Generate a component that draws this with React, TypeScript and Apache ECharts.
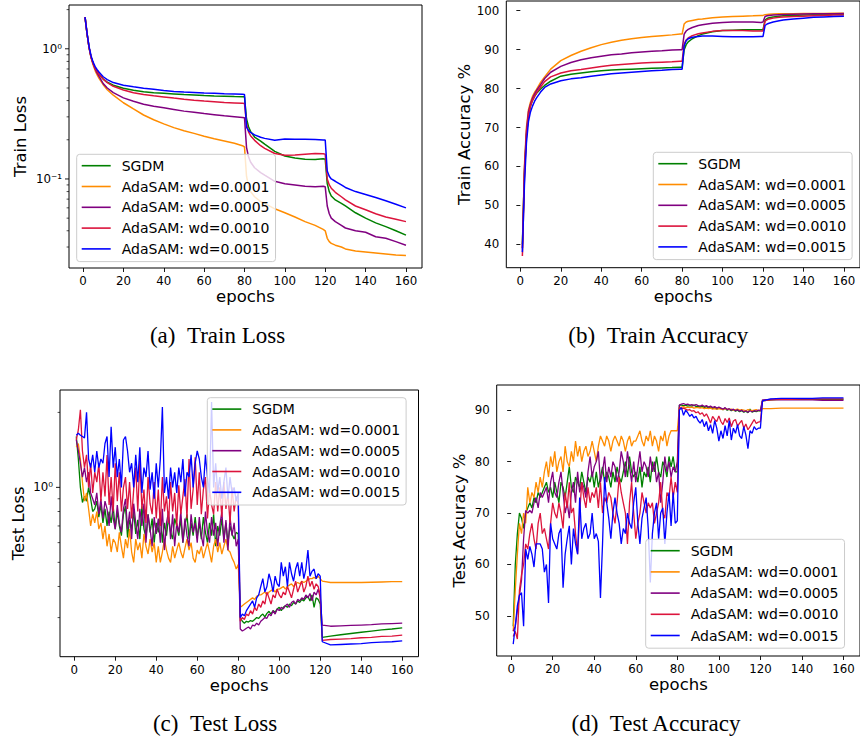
import React, { useEffect, useRef } from "react";
import * as echarts from "echarts";

const seriesNames = ["SGDM", "AdaSAM: wd=0.0001", "AdaSAM: wd=0.0005", "AdaSAM: wd=0.0010", "AdaSAM: wd=0.0015"];
const seriesColors = ["#008000", "#ff8c00", "#800080", "#dc143c", "#0000ff"];
const xTicks = [0, 20, 40, 60, 80, 100, 120, 140, 160];
const trainAccTicks = [40, 50, 60, 70, 80, 90, 100];
const testAccTicks = [50, 60, 70, 80, 90];
const trainLossMajor = [0.1, 1];
const trainLossMinor = [0.03, 0.04, 0.05, 0.06, 0.07, 0.08, 0.09, 0.2, 0.3, 0.4, 0.5, 0.6, 0.7, 0.8, 0.9, 2];
const testLossMajor = [1];
const testLossMinor = [0.3, 0.4, 0.5, 0.6, 0.7, 0.8, 0.9, 2];

// ---- Train curves (sampled epochs) ----
const trainEpochs = [1, 2, 3, 4, 5, 6, 7, 8, 10, 12, 15, 20, 25, 30, 35, 40, 45, 50, 55, 60, 65, 70, 75, 79, 80,
  81, 82, 83, 85, 88, 90, 95, 100, 105, 110, 115, 119, 120,
  121, 122, 123, 125, 128, 130, 135, 140, 145, 150, 155, 160];

const trainLossSGDM = [1.75, 1.30, 1.02, 0.86, 0.77, 0.71, 0.67, 0.635, 0.585, 0.555, 0.525, 0.497, 0.480, 0.468, 0.460, 0.455, 0.450, 0.445, 0.441, 0.437, 0.434, 0.432, 0.430, 0.429, 0.428,
  0.29, 0.252, 0.232, 0.21, 0.195, 0.185, 0.163, 0.150, 0.145, 0.142, 0.141, 0.143, 0.142,
  0.092, 0.080, 0.074, 0.069, 0.065, 0.062, 0.055, 0.050, 0.046, 0.043, 0.040, 0.037];
const trainLossW1 = [1.75, 1.30, 1.02, 0.85, 0.75, 0.68, 0.63, 0.59, 0.53, 0.485, 0.44, 0.385, 0.345, 0.31, 0.285, 0.265, 0.248, 0.235, 0.224, 0.213, 0.204, 0.196, 0.188, 0.18, 0.176,
  0.105, 0.088, 0.080, 0.073, 0.067, 0.065, 0.059, 0.055, 0.051, 0.047, 0.044, 0.041, 0.040,
  0.035, 0.033, 0.032, 0.031, 0.030, 0.029, 0.028, 0.0275, 0.027, 0.0265, 0.026, 0.0258];
const trainLossW5 = [1.75, 1.30, 1.02, 0.86, 0.77, 0.70, 0.65, 0.61, 0.54, 0.50, 0.46, 0.42, 0.395, 0.375, 0.362, 0.352, 0.342, 0.332, 0.325, 0.318, 0.312, 0.306, 0.301, 0.297, 0.295,
  0.175, 0.148, 0.135, 0.122, 0.112, 0.107, 0.096, 0.092, 0.090, 0.088, 0.087, 0.088, 0.087,
  0.062, 0.054, 0.050, 0.047, 0.044, 0.042, 0.040, 0.039, 0.036, 0.035, 0.033, 0.031];
const trainLossW10 = [1.75, 1.30, 1.02, 0.86, 0.77, 0.71, 0.67, 0.635, 0.585, 0.55, 0.515, 0.483, 0.46, 0.445, 0.435, 0.427, 0.418, 0.41, 0.403, 0.397, 0.392, 0.387, 0.384, 0.381, 0.38,
  0.265, 0.23, 0.215, 0.198, 0.18, 0.172, 0.157, 0.152, 0.153, 0.155, 0.157, 0.156, 0.155,
  0.100, 0.090, 0.085, 0.079, 0.073, 0.069, 0.062, 0.058, 0.054, 0.051, 0.049, 0.047];
const trainLossW15 = [1.75, 1.32, 1.04, 0.88, 0.79, 0.73, 0.69, 0.66, 0.61, 0.58, 0.55, 0.525, 0.51, 0.497, 0.488, 0.478, 0.47, 0.465, 0.462, 0.458, 0.455, 0.452, 0.45, 0.448, 0.446,
  0.25, 0.235, 0.228, 0.218, 0.209, 0.205, 0.198, 0.203, 0.202, 0.202, 0.201, 0.199, 0.199,
  0.115, 0.105, 0.100, 0.096, 0.090, 0.086, 0.080, 0.076, 0.072, 0.068, 0.064, 0.060];

const trainAccSGDM = [40, 58, 68, 73, 75.5, 77, 78, 78.8, 79.9, 80.8, 81.9, 83.2, 83.7, 84.0, 84.3, 84.6, 84.8, 84.9, 85.0, 85.1, 85.2, 85.3, 85.4, 85.5, 85.5,
  90.0, 91.3, 92.0, 92.8, 93.6, 94.0, 94.6, 94.9, 95.0, 95.1, 95.1, 95.1, 95.1,
  97.6, 98.0, 98.2, 98.4, 98.6, 98.7, 98.8, 98.9, 99.0, 99.0, 99.1, 99.1];
const trainAccW1 = [39, 60, 70, 74.5, 76.5, 78, 79, 79.8, 81.6, 83, 85, 87.2, 88.5, 89.6, 90.5, 91.3, 91.9, 92.4, 92.8, 93.1, 93.4, 93.6, 93.8, 94.0, 94.0,
  96.6, 97.1, 97.3, 97.5, 97.8, 97.9, 98.2, 98.4, 98.5, 98.6, 98.7, 98.8, 98.8,
  99.0, 99.05, 99.1, 99.15, 99.2, 99.2, 99.25, 99.3, 99.3, 99.3, 99.35, 99.35];
const trainAccW5 = [39, 59, 69, 74, 76, 77.5, 78.6, 79.5, 81, 82.6, 84.2, 85.7, 86.7, 87.4, 87.9, 88.3, 88.7, 88.9, 89.2, 89.4, 89.6, 89.7, 89.9, 90.0, 90.0,
  94.0, 94.8, 95.2, 95.7, 96.2, 96.4, 96.8, 97.0, 97.1, 97.1, 97.1, 97.0, 97.1,
  98.5, 98.7, 98.8, 98.9, 99.0, 99.05, 99.1, 99.15, 99.2, 99.2, 99.25, 99.3];
const trainAccW10 = [37, 57, 68, 73, 75.5, 77, 78, 78.9, 80.4, 81.8, 83, 84.0, 84.6, 84.9, 85.3, 85.7, 86.0, 86.2, 86.4, 86.6, 86.7, 86.8, 86.9, 87.0, 87.0,
  91.5, 92.5, 93.0, 93.6, 94.1, 94.3, 94.7, 94.9, 94.9, 94.9, 94.8, 94.8, 94.8,
  97.3, 97.7, 97.9, 98.1, 98.3, 98.4, 98.5, 98.6, 98.7, 98.8, 98.9, 98.9];
const trainAccW15 = [38, 55, 66, 71.5, 74, 75.5, 76.7, 77.6, 79.1, 80.3, 81.2, 82.0, 82.5, 82.8, 83.2, 83.5, 83.8, 84.0, 84.2, 84.4, 84.6, 84.7, 84.9, 85.0, 85.0,
  91.0, 92.3, 92.8, 93.2, 93.4, 93.5, 93.5, 93.4, 93.3, 93.3, 93.3, 93.4, 93.4,
  96.2, 96.6, 96.8, 97.1, 97.4, 97.6, 97.9, 98.1, 98.3, 98.4, 98.5, 98.6];

// ---- Test curves: every epoch 1..120, then sampled tail ----
const testEpochs = [...Array.from({ length: 120 }, (_, i) => i + 1), 121, 125, 130, 135, 140, 145, 150, 155, 160];

const testLossSGDM = [
  1.6, 1.3, 1.0, 0.87, 0.92, 0.88, 1.0, 0.90, 0.80, 0.82,
  0.88, 0.76, 0.85, 0.72, 0.82, 0.70, 0.80, 0.72, 0.84, 0.68,
  0.80, 0.70, 0.64, 0.78, 0.84, 0.63, 0.74, 0.68, 0.80, 0.65,
  0.74, 0.62, 0.84, 0.68, 0.63, 0.78, 0.66, 0.75, 0.60, 0.72,
  0.66, 0.78, 0.60, 0.72, 0.64, 0.76, 0.66, 0.62, 0.75, 0.70,
  0.64, 0.75, 0.60, 0.70, 0.78, 0.62, 0.72, 0.64, 0.76, 0.63,
  0.72, 0.62, 0.76, 0.66, 0.60, 0.72, 0.64, 0.78, 0.58, 0.70,
  0.64, 0.75, 0.62, 0.72, 0.60, 0.70, 0.65, 0.62, 0.66, 0.65,
  0.30, 0.29, 0.285, 0.29, 0.288, 0.292, 0.29, 0.295, 0.30, 0.298,
  0.305, 0.31, 0.302, 0.312, 0.318, 0.31, 0.32, 0.315, 0.325, 0.33,
  0.32, 0.33, 0.335, 0.33, 0.34, 0.335, 0.345, 0.34, 0.35, 0.345,
  0.355, 0.35, 0.36, 0.365, 0.35, 0.37, 0.33, 0.36, 0.355, 0.34,
  0.25, 0.253, 0.256, 0.259, 0.262, 0.265, 0.268, 0.27, 0.273];
const testLossW1 = [
  1.45, 1.5, 1.3, 1.05, 0.88, 0.95, 0.82, 0.70, 0.78, 0.72,
  0.80, 0.68, 0.72, 0.62, 0.70, 0.58, 0.65, 0.55, 0.62, 0.60,
  0.55, 0.66, 0.58, 0.52, 0.62, 0.57, 0.68, 0.55, 0.50, 0.62,
  0.56, 0.60, 0.52, 0.65, 0.58, 0.54, 0.62, 0.55, 0.60, 0.50,
  0.58, 0.50, 0.55, 0.62, 0.56, 0.52, 0.50, 0.58, 0.52, 0.56,
  0.60, 0.55, 0.52, 0.57, 0.62, 0.56, 0.60, 0.52, 0.50, 0.56,
  0.54, 0.58, 0.52, 0.56, 0.60, 0.55, 0.50, 0.58, 0.62, 0.55,
  0.60, 0.54, 0.58, 0.62, 0.56, 0.55, 0.52, 0.50, 0.47, 0.49,
  0.33, 0.335, 0.34, 0.345, 0.35, 0.355, 0.36, 0.355, 0.365, 0.37,
  0.37, 0.375, 0.38, 0.37, 0.38, 0.385, 0.39, 0.38, 0.39, 0.39,
  0.395, 0.40, 0.39, 0.40, 0.405, 0.41, 0.40, 0.41, 0.415, 0.41,
  0.42, 0.415, 0.42, 0.425, 0.43, 0.43, 0.435, 0.43, 0.44, 0.43,
  0.42, 0.415, 0.415, 0.415, 0.415, 0.416, 0.417, 0.418, 0.418];
const testLossW5 = [
  1.55, 1.4, 1.25, 1.1, 1.2, 1.05, 1.15, 0.95, 0.90, 0.85,
  0.95, 0.78, 0.90, 0.75, 0.88, 0.82, 0.70, 0.92, 0.75, 0.68,
  0.85, 0.72, 0.66, 0.82, 0.90, 0.68, 0.80, 0.62, 0.86, 0.72,
  0.62, 0.82, 0.70, 0.86, 0.60, 0.78, 0.68, 0.58, 0.76, 0.65,
  0.75, 0.60, 0.82, 0.56, 0.72, 0.80, 0.62, 0.78, 0.58, 0.72,
  0.66, 0.80, 0.60, 0.75, 0.64, 0.58, 0.78, 0.66, 0.72, 0.60,
  0.76, 0.64, 0.58, 0.80, 0.66, 0.60, 0.76, 0.64, 0.72, 0.58,
  0.70, 0.80, 0.60, 0.74, 0.56, 0.76, 0.64, 0.72, 0.58, 0.62,
  0.27, 0.265, 0.268, 0.272, 0.275, 0.27, 0.28, 0.278, 0.285, 0.28,
  0.29, 0.295, 0.30, 0.298, 0.31, 0.305, 0.32, 0.31, 0.325, 0.32,
  0.33, 0.325, 0.335, 0.34, 0.33, 0.345, 0.35, 0.34, 0.355, 0.35,
  0.36, 0.355, 0.37, 0.36, 0.375, 0.35, 0.38, 0.37, 0.39, 0.36,
  0.28, 0.277, 0.278, 0.279, 0.28, 0.281, 0.283, 0.284, 0.285];
const testLossW10 = [
  1.55, 1.7, 2.05, 1.4, 1.2, 1.35, 1.0, 1.25, 0.95, 1.15,
  1.05, 1.25, 0.88, 1.15, 0.92, 1.35, 0.85, 1.1, 0.80, 1.25,
  0.88, 1.15, 0.80, 1.0, 1.1, 0.82, 1.05, 0.75, 0.98, 1.2,
  0.80, 1.28, 0.82, 0.98, 0.72, 1.1, 0.86, 0.78, 1.05, 0.75,
  0.98, 0.70, 1.1, 0.80, 0.92, 0.72, 1.05, 0.80, 0.95, 0.70,
  1.02, 0.78, 0.92, 1.08, 0.75, 1.3, 0.82, 0.98, 1.32, 0.85,
  1.15, 0.78, 0.98, 1.1, 0.75, 0.98, 0.85, 0.78, 1.05, 0.80,
  1.0, 0.76, 1.05, 0.82, 0.95, 0.72, 1.0, 0.80, 0.92, 0.85,
  0.29, 0.30, 0.295, 0.31, 0.305, 0.32, 0.31, 0.33, 0.32, 0.34,
  0.33, 0.35, 0.34, 0.38, 0.36, 0.34, 0.37, 0.36, 0.39, 0.37,
  0.36, 0.38, 0.37, 0.40, 0.38, 0.36, 0.39, 0.42, 0.38, 0.40,
  0.42, 0.38, 0.40, 0.44, 0.40, 0.42, 0.39, 0.41, 0.40, 0.37,
  0.243, 0.245, 0.246, 0.247, 0.249, 0.25, 0.252, 0.253, 0.255];
const testLossW15 = [
  1.62, 1.65, 1.62, 1.60, 1.58, 2.0, 1.3, 1.2, 1.35, 1.15,
  1.4, 1.2, 1.3, 1.25, 1.5, 1.6, 1.1, 1.75, 1.2, 1.45,
  1.1, 1.3, 1.0, 1.55, 1.6, 1.4, 1.15, 1.25, 1.0, 1.35,
  1.05, 1.45, 0.95, 1.2, 1.1, 1.4, 0.98, 1.15, 0.9, 1.25,
  1.0, 1.3, 2.1, 0.95, 1.1, 0.9, 1.2, 1.0, 1.15, 0.95,
  1.2, 1.05, 1.3, 0.92, 1.15, 1.1, 1.35, 1.0, 1.25, 1.4,
  1.3, 1.1, 1.0, 1.35, 1.1, 0.95, 2.2, 1.0, 1.25, 0.95,
  1.1, 0.9, 1.05, 1.2, 0.9, 1.1, 0.95, 1.0, 0.88, 0.95,
  0.30, 0.31, 0.305, 0.32, 0.33, 0.34, 0.35, 0.33, 0.36, 0.37,
  0.40, 0.43, 0.38, 0.40, 0.45, 0.42, 0.38, 0.44, 0.41, 0.40,
  0.50, 0.44, 0.48, 0.40, 0.50, 0.45, 0.42, 0.47, 0.50, 0.44,
  0.50, 0.43, 0.47, 0.56, 0.44, 0.46, 0.47, 0.43, 0.45, 0.44,
  0.24, 0.233, 0.234, 0.235, 0.236, 0.238, 0.239, 0.24, 0.242];

const testAccSGDM = [
  48, 60, 66, 70, 69, 67, 70, 71, 72, 71,
  73, 72, 74, 73, 74, 75, 76, 74, 75, 73,
  76, 74, 72, 76, 75, 73, 76, 79, 75, 74,
  77, 76, 75, 78, 76, 74, 77, 76, 78, 75,
  78, 75, 77, 79, 76, 78, 77, 75, 78, 76,
  79, 77, 76, 78, 80, 77, 81, 78, 77, 78,
  76, 79, 75, 78, 77, 79, 76, 80, 78, 81,
  78, 77, 80, 79, 77, 81, 79, 81, 78, 78,
  91, 91, 90.9, 91, 90.8, 90.9, 90.8, 91, 90.7, 90.8,
  90.6, 90.8, 90.5, 90.7, 90.4, 90.6, 90.3, 90.5, 90.2, 90.4,
  90.3, 90.1, 90.4, 90.0, 90.2, 89.9, 90.1, 89.8, 90.0, 89.7,
  89.9, 89.6, 89.8, 89.5, 90.2, 89.6, 89.8, 89.7, 89.9, 89.8,
  91.8, 92.0, 92.1, 92.1, 92.1, 92.1, 92.1, 92.1, 92.1];
const testAccW1 = [
  47, 55, 62, 68, 66, 70, 68, 75, 72, 74,
  73, 76, 74, 77, 75, 78, 80, 77, 81, 79,
  82, 78, 80, 81, 78, 83, 80, 79, 82, 80,
  84, 81, 83, 80, 82, 83, 81, 82, 84, 82,
  80, 83, 85, 84, 83, 85, 84, 82, 84, 85,
  84, 83, 85, 84, 82, 84, 85, 83, 84, 84,
  85, 86, 84, 83, 85, 84, 86, 83, 85, 84,
  82, 85, 84, 86, 83, 85, 86, 86, 86, 86,
  90.5, 90.6, 90.7, 90.5, 90.6, 90.5, 90.6, 90.4, 90.5, 90.5,
  90.4, 90.5, 90.3, 90.4, 90.3, 90.4, 90.2, 90.3, 90.2, 90.3,
  90.2, 90.1, 90.3, 90.2, 90.1, 90.2, 90.0, 90.1, 90.2, 90.0,
  90.1, 90.0, 89.9, 90.1, 90.0, 89.9, 90.0, 90.1, 89.9, 90.0,
  90.3, 90.3, 90.4, 90.4, 90.4, 90.4, 90.4, 90.4, 90.4];
const testAccW5 = [
  47, 48, 51, 54, 57, 65, 70.5, 70, 70.5, 70,
  72, 73, 71, 74, 73, 74, 75, 72, 76, 78,
  74, 73, 76, 78, 74, 70, 72, 69, 74, 76,
  72, 78, 74, 76, 75, 73, 78, 81, 77, 79,
  80, 82, 76, 78, 81, 76, 79, 77, 80, 79,
  76, 78, 82, 80, 77, 82, 79, 76, 80, 76,
  79, 82, 78, 80, 79, 77, 81, 78, 80, 76,
  78, 72, 76, 81, 78, 80, 77, 79, 78, 80,
  91, 91.2, 91.3, 91.1, 91.2, 91, 91.1, 90.9, 91.1, 90.9,
  90.8, 91, 90.7, 90.9, 90.6, 90.8, 90.5, 90.7, 90.4, 90.6,
  90.4, 90.2, 90.5, 90.1, 90.3, 90.0, 90.2, 89.9, 90.1, 89.8,
  90.0, 89.7, 89.9, 89.6, 89.9, 89.7, 89.9, 89.8, 90.0, 89.9,
  92.0, 92.1, 92.0, 92.0, 92.0, 92.0, 91.9, 91.9, 91.9];
const testAccW10 = [
  46, 47, 45.5, 55, 58, 60, 64, 63, 66, 68,
  65, 63, 68, 70, 66, 67, 65, 63, 68, 72,
  70, 69, 72, 70, 67, 74, 71, 76, 70, 71,
  66, 62, 70, 76, 73, 71, 75, 72, 74, 73,
  75, 71, 76, 70, 73, 72, 74, 73, 70, 68,
  72, 77, 74, 72, 70, 64, 72, 76, 70, 65,
  68, 70, 74, 72, 70, 72, 71, 72, 68, 70,
  72, 76, 70, 69, 74, 73, 77, 73, 76, 74,
  90.5, 90.3, 90.4, 90.2, 90, 90.1, 89.8, 89.9, 89.5, 89.7,
  89.2, 89.5, 88.8, 89.3, 88.5, 87.5, 88.8, 88.2, 87.8, 88.9,
  87.8, 87.2, 88.4, 87.6, 88.5, 86.8, 87.9, 88.2, 86.9, 87.5,
  88.0, 86.5, 87.3, 86.2, 86.8, 87.5, 88.2, 87.4, 87.7, 87.8,
  91.8, 92.0, 92.1, 92.1, 92.2, 92.2, 92.2, 92.2, 92.2];
const testAccW15 = [
  44.5, 48, 52, 54, 54.5, 48, 63, 61, 63.5, 62,
  59.5, 64, 64, 64, 63, 58.5, 60, 52.5, 68, 65,
  64, 63, 66, 67, 55.5, 62, 65, 67.5, 60, 67,
  64, 62, 73, 65, 67, 68, 65, 66, 70, 65,
  66, 64.5, 53.5, 64, 77, 72, 69, 65, 70, 73,
  70, 68, 64, 67, 66, 70, 68, 67, 72, 75,
  68, 64, 69, 71, 73, 67, 56.5, 66, 70, 72,
  65, 70, 71, 64, 70, 74, 67.5, 74, 68, 68.5,
  90, 90.5, 89, 90, 89.5, 88.8, 89.2, 88.5, 88.8, 88,
  87.5, 88.2, 86.8, 87.8, 86, 87.2, 85.5, 88, 86.5, 84,
  86, 84.5, 87, 85, 88, 84.2, 86.5, 85.5, 87.2, 85,
  84.5, 86.8, 85.2, 82.5, 86, 85.5, 86.8, 86.2, 86.5, 86.5,
  91.8, 92.2, 92.3, 92.3, 92.3, 92.3, 92.4, 92.4, 92.4];

const trainLossSets = [trainLossSGDM, trainLossW1, trainLossW5, trainLossW10, trainLossW15];
const trainAccSets = [trainAccSGDM, trainAccW1, trainAccW5, trainAccW10, trainAccW15];
const testLossSets = [testLossSGDM, testLossW1, testLossW5, testLossW10, testLossW15];
const testAccSets = [testAccSGDM, testAccW1, testAccW5, testAccW10, testAccW15];

const X_MIN = -6.95;
const X_MAX = 167.95;
const FONT = "DejaVu Sans";
const SUP: Record<string, string> = { "0": "\u2070", "1": "\u00b9", "2": "\u00b2", "-": "\u207b" };

function logLabel(v: number): string {
  const l = Math.log10(v);
  const r = Math.round(l);
  if (Math.abs(l - r) > 1e-6) return "";
  return "10" + String(r).split("").map((c) => SUP[c] || c).join("");
}

function pairs(xs: number[], ys: number[]) {
  return xs.map((x, i) => [x, ys[i]]);
}

export default function App() {
  const ref = useRef<HTMLDivElement>(null);
  useEffect(() => {
    if (!ref.current) return;
    const chart = echarts.init(ref.current, undefined, { renderer: "svg" });

    const grids = [
      { left: 69, top: 5, width: 353, height: 263 },
      { left: 506.3, top: 1, width: 357.5, height: 266.7 },
      { left: 60, top: 390, width: 358.5, height: 266.7 },
      { left: 496.7, top: 385, width: 364.7, height: 271 },
    ].map((g) => ({ ...g, show: true, borderColor: "#000", borderWidth: 1, backgroundColor: "transparent" }));

    const xAxes = [0, 1, 2, 3].map((i) => ({
      type: "value",
      gridIndex: i,
      min: X_MIN,
      max: X_MAX,
      axisLine: { show: false },
      splitLine: { show: false },
      axisTick: { show: true, length: 4, customValues: xTicks, lineStyle: { color: "#000", width: 0.9 } },
      axisLabel: { customValues: xTicks, fontSize: 11.8, color: "#000", margin: 7, fontFamily: FONT },
      name: "epochs",
      nameLocation: "middle",
      nameGap: 20,
      nameTextStyle: { fontSize: 16.5, color: "#000", fontFamily: FONT },
    }));

    const yCommon = {
      axisLine: { show: false },
      splitLine: { show: false },
      nameLocation: "middle",
      nameRotate: 90,
      nameTextStyle: { fontSize: 16.5, color: "#000", fontFamily: FONT },
    };
    const yAxes = [
      {
        ...yCommon, type: "log", logBase: 10, gridIndex: 0, min: 0.0207, max: 2.17,
        axisTick: { show: false },
        axisLabel: { formatter: (v: number) => logLabel(v), fontSize: 11.8, color: "#000", margin: 7, fontFamily: FONT },
        name: "Train Loss", nameGap: 40,
      },
      {
        ...yCommon, type: "value", gridIndex: 1, min: 34.0, max: 102.5,
        axisTick: { show: true, length: 4, customValues: trainAccTicks, lineStyle: { color: "#000", width: 0.9 } },
        axisLabel: { customValues: trainAccTicks, fontSize: 11.8, color: "#000", margin: 7, fontFamily: FONT },
        name: "Train Accuracy %", nameGap: 33,
      },
      {
        ...yCommon, type: "log", logBase: 10, gridIndex: 2, min: 0.209, max: 2.46,
        axisTick: { show: false },
        axisLabel: { formatter: (v: number) => logLabel(v), fontSize: 11.8, color: "#000", margin: 7, fontFamily: FONT },
        name: "Test Loss", nameGap: 33,
      },
      {
        ...yCommon, type: "value", gridIndex: 3, min: 42.2, max: 94.9,
        axisTick: { show: true, length: 4, customValues: testAccTicks, lineStyle: { color: "#000", width: 0.9 } },
        axisLabel: { customValues: testAccTicks, fontSize: 11.8, color: "#000", margin: 7, fontFamily: FONT },
        name: "Test Accuracy %", nameGap: 29,
      },
    ];

    const lineSeries: any[] = [];
    const panels = [
      { sets: trainLossSets, xs: trainEpochs, width: 1.5 },
      { sets: trainAccSets, xs: trainEpochs, width: 1.5 },
      { sets: testLossSets, xs: testEpochs, width: 1.3 },
      { sets: testAccSets, xs: testEpochs, width: 1.3 },
    ];
    panels.forEach((p, gi) => {
      p.sets.forEach((ys, si) => {
        lineSeries.push({
          type: "line",
          name: seriesNames[si],
          xAxisIndex: gi,
          yAxisIndex: gi,
          data: pairs(p.xs, ys),
          symbol: "none",
          showSymbol: false,
          lineStyle: { width: p.width, color: seriesColors[si] },
          itemStyle: { color: seriesColors[si] },
          emphasis: { disabled: true },
          z: 2 + si * 0.01,
        });
      });
    });

    const tickSeries = (gi: number, vals: number[], len: number, w: number, id: string) => ({
      type: "custom",
      name: id,
      xAxisIndex: gi,
      yAxisIndex: gi,
      clip: false,
      silent: true,
      z: 6,
      data: vals.map((v) => [X_MIN, v]),
      renderItem: (_params: any, api: any) => {
        const pt = api.coord([api.value(0), api.value(1)]);
        return {
          type: "line",
          shape: { x1: pt[0] - len, y1: pt[1], x2: pt[0], y2: pt[1] },
          style: { stroke: "#000", lineWidth: w },
        };
      },
    });

    const legendBase = {
      orient: "vertical",
      icon: "rect",
      itemWidth: 29,
      itemHeight: 1.6,
      itemGap: 6.8,
      padding: [4.4, 6, 5.7, 5],
      backgroundColor: "rgba(255,255,255,0.8)",
      borderColor: "#cccccc",
      borderWidth: 1,
      borderRadius: 3,
      data: seriesNames,
      selectedMode: false,
      textStyle: { fontSize: 14, color: "#000", fontFamily: FONT, lineHeight: 14, padding: [0, 0, 0, 6] },
      z: 10,
    };
    const legends = [
      { ...legendBase, left: 76.7, top: 154.3 },
      { ...legendBase, left: 653.3, top: 152.3 },
      { ...legendBase, left: 207.3, top: 397.7 },
      { ...legendBase, left: 645.7, top: 539.3, itemGap: 7.2 },
    ];

    const caption = (text: string, x: number, y: number) => ({
      type: "text",
      x,
      y,
      style: { text, fontSize: 23, fontFamily: "Liberation Serif", fill: "#000", align: "center", verticalAlign: "middle" },
    });

    chart.setOption({
      animation: false,
      backgroundColor: "#fff",
      textStyle: { fontFamily: FONT },
      grid: grids,
      xAxis: xAxes,
      yAxis: yAxes,
      legend: legends,
      series: [
        ...lineSeries,
        tickSeries(0, trainLossMajor, 4, 0.9, "ticks-a-major"),
        tickSeries(0, trainLossMinor, 2.4, 0.7, "ticks-a-minor"),
        tickSeries(2, testLossMajor, 4, 0.9, "ticks-c-major"),
        tickSeries(2, testLossMinor, 2.4, 0.7, "ticks-c-minor"),
      ],
      graphic: [
        caption("(a)\u00a0\u00a0Train Loss", 217.5, 335),
        caption("(b)\u00a0\u00a0Train Accuracy", 658.3, 335),
        caption("(c)\u00a0\u00a0Test Loss", 215, 723),
        caption("(d)\u00a0\u00a0Test Accuracy", 656, 723),
      ],
    });
    return () => chart.dispose();
  }, []);
  return <div ref={ref} style={{ position: "fixed", left: 0, top: 0, width: 860, height: 742, background: "#fff" }} />;
}
